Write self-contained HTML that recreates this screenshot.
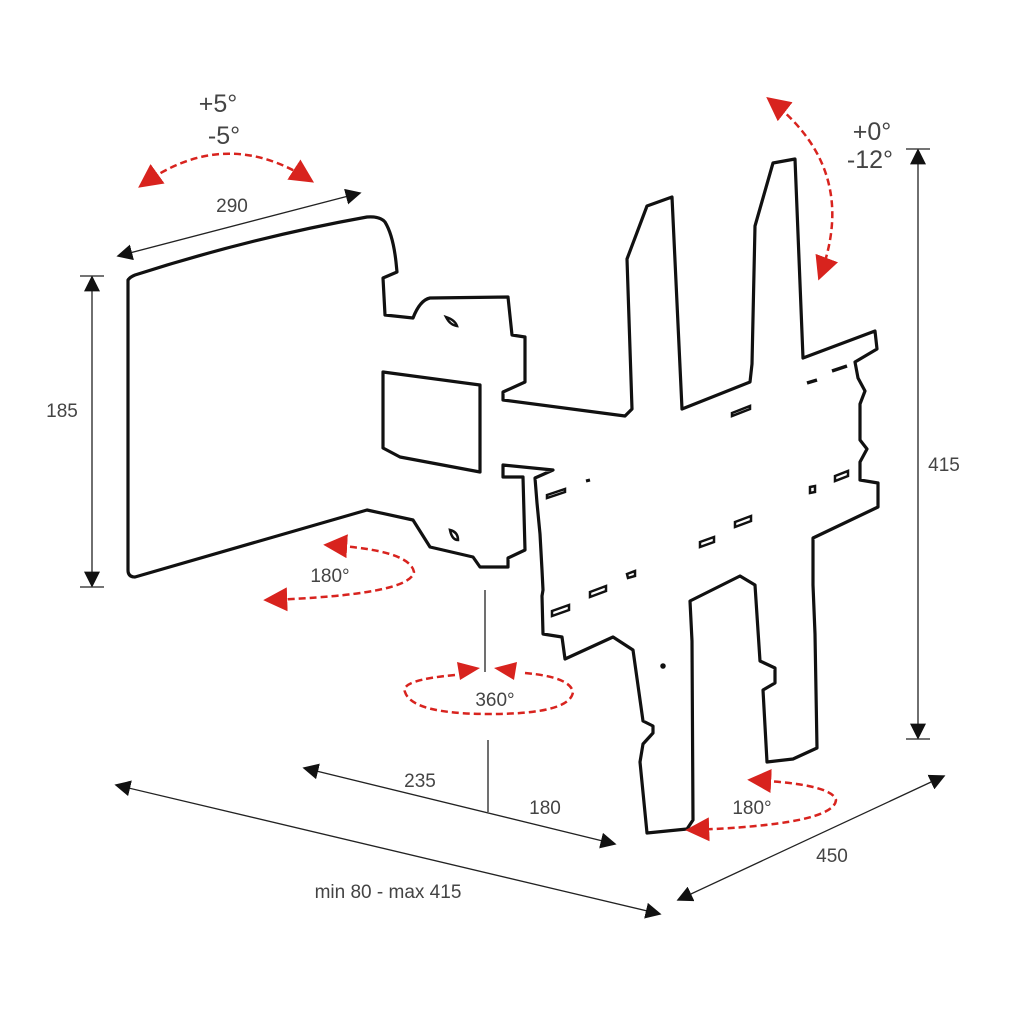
<!DOCTYPE html>
<html><head><meta charset="utf-8"><style>
html,body{margin:0;padding:0;background:#fff;}
svg{display:block}
text{font-family:"Liberation Sans",sans-serif;fill:#444;}
</style></head><body>
<svg width="1024" height="1024" viewBox="0 0 1024 1024" xmlns="http://www.w3.org/2000/svg">
<defs>
<marker id="ab" viewBox="0 0 10 10" refX="9" refY="5" markerWidth="16" markerHeight="16" markerUnits="userSpaceOnUse" orient="auto-start-reverse"><path d="M0,0 L10,5 L0,10 z" fill="#111"/></marker>
<marker id="ar" viewBox="0 0 10 10" refX="8" refY="5" markerWidth="24" markerHeight="24" markerUnits="userSpaceOnUse" orient="auto-start-reverse"><path d="M0,0 L10,5 L0,10 z" fill="#d8231e"/></marker>
</defs>
<g fill="#fff" stroke="#111" stroke-width="3.2" stroke-linejoin="round">
<path d="M128,280 Q130,277 135,275 Q250,238 367,217 Q380,216 385,222 Q393,235 396,262 L397,272 L383,278 L385,315 L413,318 Q420,300 430,298 L508,297 L512,335 L525,337 L525,382 L503,392 L503,400 L625,416 L632,409 L627,259 L647,206 L672,197 L682,409 L750,382 L752,364 L755,226 L773,163 L795,159 L803,358 L875,331 L877,349 L855,362 L858,378 L865,391 L860,404 L860,440 L867,449 L860,462 L860,480 L878,483 L878,507 L813,538 L813,585 L815,634 L817,748 L793,759 L767,762 L763,690 L775,683 L775,668 L760,661 L755,585 L740,576 L690,601 L692,641 L693,820 L687,829 L647,833 L640,762 L643,744 L653,733 L653,726 L643,721 L633,650 L613,637 L565,659 L562,637 L543,634 L542,596 L543,590 L542,570 L540,534 L537,503 L535,478 L553,470 L503,465 L503,477 L523,477 L525,550 L508,558 L508,567 L480,567 L473,557 L430,547 L413,520 L367,510 L135,577 Q128,577 128,570 Z"/>
<path d="M383,372 L480,385 L480,472 L400,457 L383,448 Z"/>
</g>
<g fill="#fff" stroke="#111" stroke-width="2.5">
<path d="M807,383 L817,380 M832,371 L847,366" stroke-width="3.5"/>
<path d="M732,413 L750,406 L750,409 L732,416Z"/>
<path d="M547,495 L565,489 L565,492 L547,498Z"/>
<path d="M586,481 L590,480" stroke-width="3"/>
<path d="M810,487 L815,486 L815,492 L810,493Z"/>
<path d="M835,476 L848,471 L848,476 L835,481Z"/>
<path d="M700,542 L714,537 L714,542 L700,547Z"/>
<path d="M735,522 L751,516 L751,521 L735,527Z"/>
<path d="M590,592 L606,586 L606,591 L590,597Z"/>
<path d="M627,574 L635,571 L635,576 L628,578Z"/>
<path d="M552,611 L569,605 L569,610 L552,616Z"/>
<circle cx="663" cy="666" r="1.5" fill="#111"/>
<path d="M446,317 Q455,320 457,326 Q450,325 446,317Z"/>
<path d="M450,530 Q458,532 458,540 Q452,540 450,530Z"/>
</g>
<g stroke="#222" stroke-width="1.3" fill="none">
<line x1="118" y1="256" x2="360" y2="193" marker-start="url(#ab)" marker-end="url(#ab)"/>
<line x1="92" y1="277" x2="92" y2="586" marker-start="url(#ab)" marker-end="url(#ab)"/>
<line x1="80" y1="276" x2="104" y2="276"/><line x1="80" y1="587" x2="104" y2="587"/>
<line x1="918" y1="150" x2="918" y2="738" marker-start="url(#ab)" marker-end="url(#ab)"/>
<line x1="906" y1="149" x2="930" y2="149"/><line x1="906" y1="739" x2="930" y2="739"/>
<line x1="116" y1="785" x2="660" y2="914" marker-start="url(#ab)" marker-end="url(#ab)"/>
<line x1="678" y1="900" x2="944" y2="776" marker-start="url(#ab)" marker-end="url(#ab)"/>
<line x1="304" y1="768" x2="615" y2="844" marker-start="url(#ab)" marker-end="url(#ab)"/>
<line x1="488" y1="740" x2="488" y2="812"/>
<line x1="485" y1="590" x2="485" y2="672"/>
</g>
<g stroke="#d8231e" stroke-width="2.5" fill="none" stroke-dasharray="7,4">
<path d="M142,185 Q225,125 310,180" marker-start="url(#ar)" marker-end="url(#ar)"/>
<path d="M770,100 Q860,170 820,276" marker-start="url(#ar)" marker-end="url(#ar)"/>
<path d="M328,545 Q410,550 414,572 Q410,595 268,600" marker-start="url(#ar)" marker-end="url(#ar)"/>
<path d="M455,675 Q400,680 405,692 Q412,714 490,714 Q570,714 573,692 Q570,677 525,673"/>
<path d="M752,780 Q832,784 836,800 Q834,825 690,830" marker-start="url(#ar)" marker-end="url(#ar)"/>
</g>
<path d="M457,662 L480,668 L460,680Z" fill="#d8231e"/>
<path d="M517,662 L494,668 L514,680Z" fill="#d8231e"/>
<g font-size="25">
<text x="218" y="112" text-anchor="middle">+5°</text>
<text x="224" y="144" text-anchor="middle">-5°</text>
<text x="872" y="140" text-anchor="middle">+0°</text>
<text x="870" y="168" text-anchor="middle">-12°</text>
</g>
<g font-size="19">
<text x="232" y="212" text-anchor="middle">290</text>
<text x="62" y="417" text-anchor="middle">185</text>
<text x="944" y="471" text-anchor="middle">415</text>
<text x="330" y="582" text-anchor="middle">180°</text>
<text x="495" y="706" text-anchor="middle">360°</text>
<text x="420" y="787" text-anchor="middle">235</text>
<text x="545" y="814" text-anchor="middle">180</text>
<text x="752" y="814" text-anchor="middle">180°</text>
<text x="832" y="862" text-anchor="middle">450</text>
<text x="388" y="898" text-anchor="middle">min 80 - max 415</text>
</g>
</svg>
</body></html>
